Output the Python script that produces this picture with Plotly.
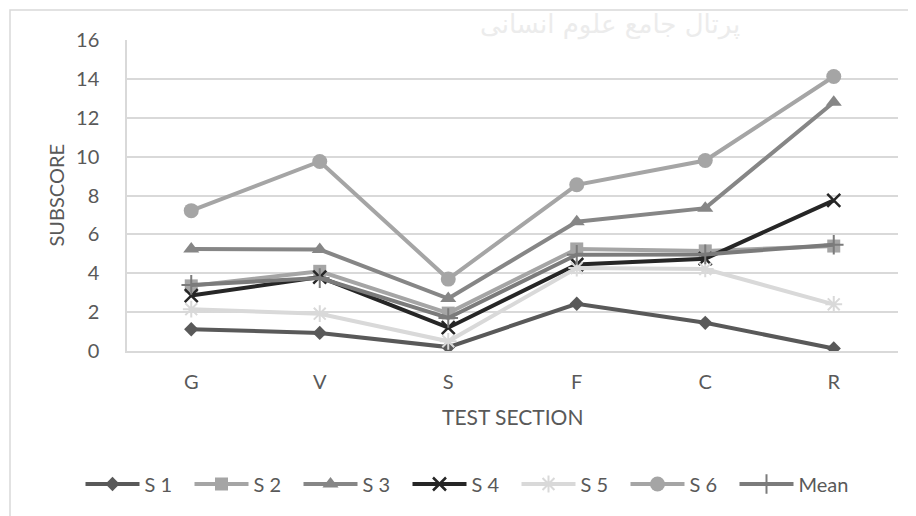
import plotly.graph_objects as go

categories = ["G", "V", "S", "F", "C", "R"]
s1 = [1.12, 0.93, 0.2, 2.43, 1.45, 0.13]
s2 = [3.35, 4.1, 1.95, 5.25, 5.15, 5.4]
s3 = [5.25, 5.22, 2.7, 6.65, 7.35, 12.8]
s4 = [2.85, 3.8, 1.2, 4.45, 4.75, 7.75]
s5 = [2.15, 1.92, 0.5, 4.27, 4.22, 2.4]
s6 = [7.22, 9.75, 3.7, 8.55, 9.8, 14.12]
mean = [3.4, 3.75, 1.7, 4.95, 4.97, 5.47]
series_names = ["S 1", "S 2", "S 3", "S 4", "S 5", "S 6", "Mean"]
y_ticks = [0, 2, 4, 6, 8, 10, 12, 14, 16]

FONT = "Lato"
TXT = "#595959"

styles = [
    dict(color="#595959", symbol="diamond", size=11, lw=0, lgw=40),
    dict(color="#a5a5a5", symbol="square", size=13, lw=0, lgw=40),
    dict(color="#868686", symbol="triangle-up", size=14, lw=0, lgw=40),
    dict(color="#262626", symbol="x-thin", size=13, lw=2.5, lgw=40),
    dict(color="#d9d9d9", symbol="asterisk", size=14, lw=2, lgw=40),
    dict(color="#a5a5a5", symbol="circle", size=15, lw=0, lgw=40),
    dict(color="#7b7b7b", symbol="cross-thin", size=14, lw=2, lgw=52),
]
data = [s1, s2, s3, s4, s5, s6, mean]

fig = go.Figure()
for name, vals, st in zip(series_names, data, styles):
    fig.add_trace(go.Scatter(
        x=categories, y=vals, name=name, mode="lines+markers",
        legendwidth=st["lgw"],
        line=dict(color=st["color"], width=4),
        marker=dict(symbol=st["symbol"], size=st["size"], color=st["color"],
                    line=dict(color=st["color"], width=st["lw"])),
    ))

# page has an 8px body margin; screenshot pixel = figure pixel + OFF
OFF = 8
W, H = 916 - OFF, 516 - OFF
L, T = 127 - OFF, 40 - OFF
R = W - (898 - OFF)
B = H - (351 - OFF)
pw, ph = W - L - R, H - T - B

def px_x(p):
    return (p - OFF - L) / pw

def px_y(p):
    return (H - B - (p - OFF)) / ph

fig.update_layout(
    width=W, height=H,
    margin=dict(l=L, r=R, t=T, b=B, autoexpand=False),
    paper_bgcolor="white", plot_bgcolor="white",
    font=dict(family=FONT, size=20, color=TXT),
    showlegend=True,
    legend=dict(orientation="h", xref="paper", yref="paper",
                x=px_x(468), xanchor="center",
                y=px_y(484), yanchor="middle",
                font=dict(family=FONT, size=20, color=TXT),
                itemwidth=54, entrywidth=40, entrywidthmode="pixels",
                bgcolor="rgba(0,0,0,0)"),
    xaxis=dict(type="category", range=[-0.5, 5.5], showgrid=False,
               showline=True, linecolor="#d9d9d9", linewidth=1.5,
               ticks="", ticklabelstandoff=12,
               tickfont=dict(family=FONT, size=20, color=TXT)),
    yaxis=dict(range=[0, 16], tickvals=y_ticks, showgrid=True,
               gridcolor="#d9d9d9", gridwidth=1.5, zeroline=False,
               showline=True, linecolor="#d9d9d9", linewidth=1.5,
               ticks="", ticklabelstandoff=22,
               tickfont=dict(family=FONT, size=20, color=TXT)),
    shapes=[dict(type="rect", xref="paper", yref="paper",
                 x0=px_x(10), x1=px_x(940), y0=px_y(540), y1=px_y(10),
                 line=dict(color="#d9d9d9", width=1.5), layer="below")],
    annotations=[
        dict(text="SUBSCORE", xref="paper", yref="paper", x=px_x(55), y=0.5,
             textangle=-90, showarrow=False, xanchor="center", yanchor="middle",
             font=dict(family=FONT, size=20, color=TXT)),
        dict(text="TEST SECTION", xref="paper", yref="paper", x=0.5, y=px_y(416),
             showarrow=False, xanchor="center", yanchor="middle",
             font=dict(family=FONT, size=21, color=TXT)),
        dict(text="پرتال جامع علوم انسانی", xref="paper", yref="paper",
             x=px_x(610), y=px_y(24), showarrow=False, xanchor="center",
             yanchor="middle",
             font=dict(family="DejaVu Sans", size=26, color="#ececec")),
    ],
)

fig.write_html("out.html")
